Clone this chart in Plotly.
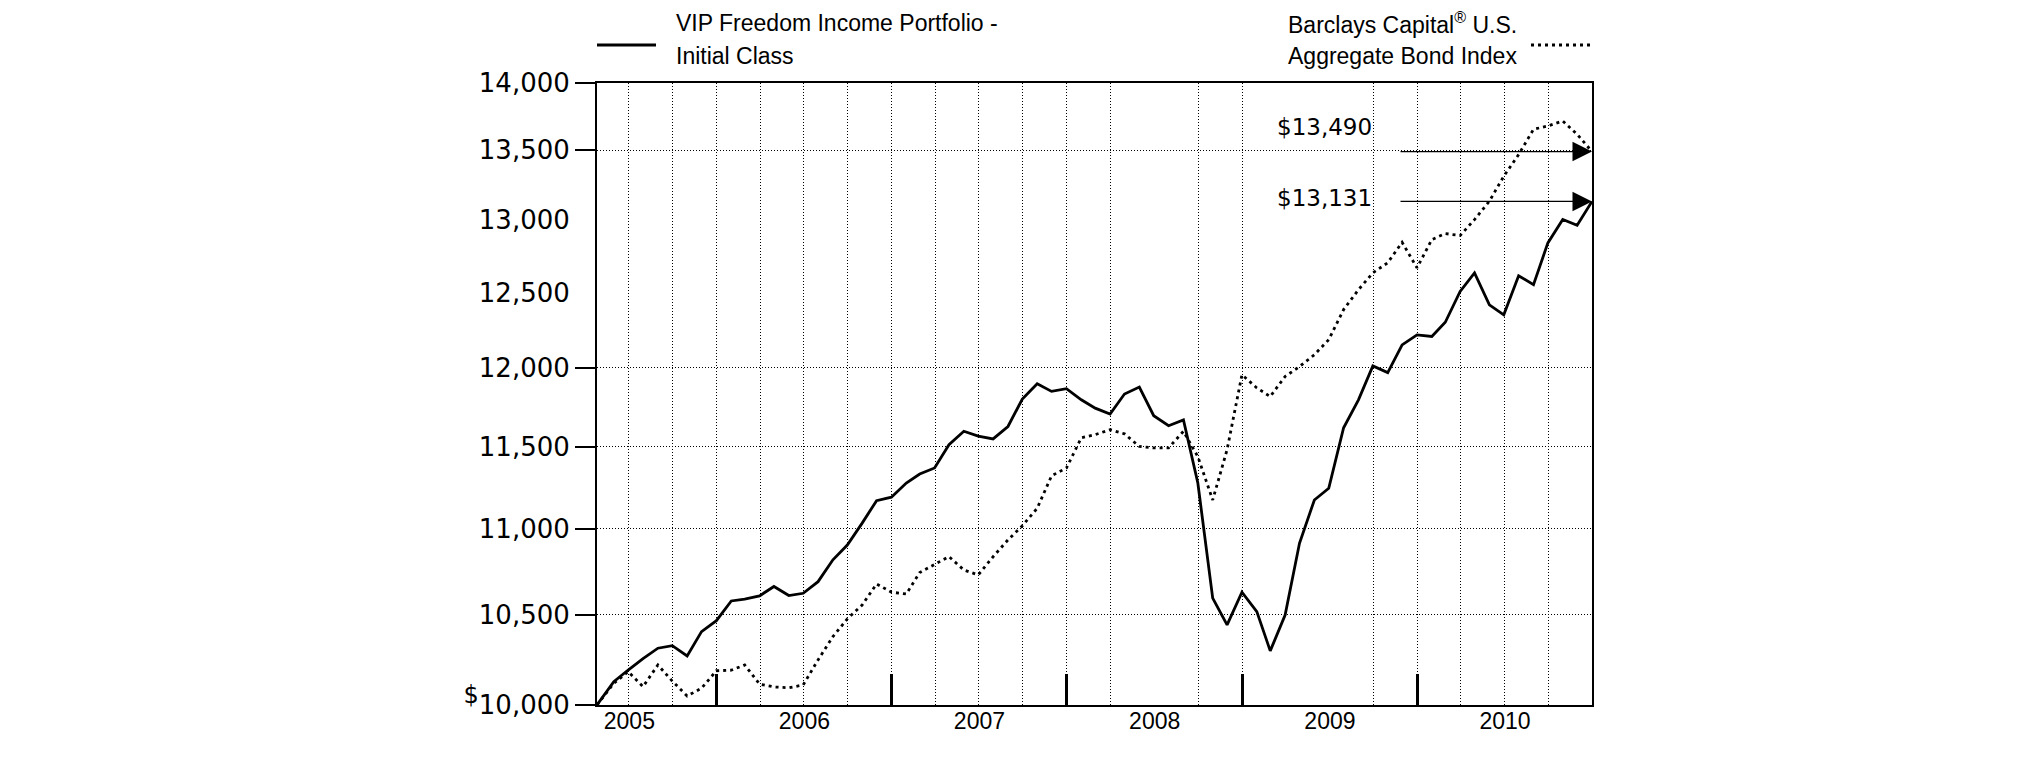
import numpy as np
import pandas as pd
import plotly.graph_objects as go

# growth of $10,000, start 26 Apr 2005 then month-ends to Dec 2010
START_DATE = "2005-04-26"
MONTH_ENDS = pd.date_range("2005-05-31", "2010-12-31", freq="ME")
DATES = [pd.Timestamp(START_DATE)] + list(MONTH_ENDS)

FUND = [
    10000,
    10127, 10191, 10254, 10312, 10326, 10269, 10405, 10467,                  # 2005
    10579, 10589, 10608, 10662, 10610, 10623, 10690, 10817, 10904, 11034, 11169, 11190,  # 2006
    11276, 11331, 11368, 11512, 11596, 11566, 11548, 11626, 11800, 11898, 11849, 11866,  # 2007
    11795, 11742, 11704, 11832, 11877, 11694, 11631, 11668, 11276, 10595, 10443, 10629,  # 2008
    10518, 10297, 10499, 10914, 11173, 11244, 11618, 11795, 12013, 11970, 12151, 12217,  # 2009
    12206, 12300, 12507, 12633, 12417, 12350, 12614, 12553, 12840, 13003, 12963, 13131,  # 2010
]
INDEX = [
    10000,
    10118, 10182, 10100, 10219, 10130, 10049, 10091, 10187,
    10190, 10219, 10114, 10098, 10094, 10109, 10247, 10377, 10477, 10556, 10677, 10629,
    10619, 10743, 10788, 10836, 10758, 10729, 10835, 10934, 11018, 11123, 11320, 11368,
    11555, 11575, 11606, 11580, 11501, 11492, 11492, 11596, 11438, 11173, 11481, 11956,
    11871, 11816, 11945, 12009, 12086, 12185, 12385, 12519, 12633, 12703, 12844, 12668,
    12863, 12905, 12891, 13003, 13133, 13311, 13468, 13654, 13678, 13715, 13617, 13490,
]

FUND_LABEL = ["VIP Freedom Income Portfolio -", "Initial Class"]
INDEX_LABEL = ["Barclays Capital<sup>®</sup> U.S.", "Aggregate Bond Index"]

Y_TICKS = [10000, 10500, 11000, 11500, 12000, 12500, 13000, 13500, 14000]
Y_TICK_TEXT = ["<sup><span style='font-size:24px'>$</span></sup>10,000", "10,500",
               "11,000", "11,500", "12,000", "12,500", "13,000", "13,500", "14,000"]
Y_MARKED = [10000, 10500, 11000, 11500, 12000, 13500, 14000]   # ticks + grid in original
X_GRID = ["2005-07-01", "2005-10-01", "2006-04-01", "2006-07-01", "2006-10-01",
          "2007-04-01", "2007-07-01", "2007-10-01", "2008-04-01", "2008-10-01",
          "2009-10-01", "2010-04-01", "2010-07-01", "2010-10-01"]

SANS = "Liberation Sans, Arial, Helvetica, sans-serif"
WIDE = "DejaVu Sans, Verdana, sans-serif"
GRID_DASH = "1px,2px"

fig = go.Figure()
fig.add_trace(go.Scatter(x=DATES, y=FUND, mode="lines", name=FUND_LABEL[0],
                         line=dict(color="black", width=2.8)))
fig.add_trace(go.Scatter(x=DATES, y=INDEX, mode="lines", name=INDEX_LABEL[0],
                         line=dict(color="black", width=2.8, dash="3px,4px")))

# end-value arrows and labels
for val, lab_y in ((INDEX[-1], 0.9297), (FUND[-1], 0.8146)):
    fig.add_annotation(x=DATES[-1], y=np.log10(val), text="", showarrow=True,
                       axref="pixel", ayref="pixel", ax=-193, ay=0,
                       arrowhead=2, arrowsize=3.0, arrowwidth=1.3,
                       arrowcolor="black", standoff=0)
    fig.add_annotation(xref="paper", yref="paper", x=0.781, y=lab_y,
                       xanchor="right", yanchor="middle", showarrow=False,
                       text=f"${val:,.0f}", font=dict(family=WIDE, size=23))

# manual legend
fig.add_shape(type="line", xref="paper", yref="paper", x0=0.0, x1=0.0593,
              y0=1.0611, y1=1.0611, line=dict(color="black", width=2.8))
fig.add_shape(type="line", xref="paper", yref="paper", x0=0.9387, x1=0.998,
              y0=1.0611, y1=1.0611, line=dict(color="black", width=2.8, dash="3px,4px"))
for i, yy in enumerate((1.097, 1.0440)):
    fig.add_annotation(xref="paper", yref="paper", x=0.0774, y=yy, xanchor="left",
                       yanchor="middle", showarrow=False, text=FUND_LABEL[i],
                       font=dict(family=SANS, size=23))
    fig.add_annotation(xref="paper", yref="paper", x=0.6925, y=yy, xanchor="left",
                       yanchor="middle", showarrow=False, text=INDEX_LABEL[i],
                       font=dict(family=SANS, size=23))

# the page body adds an 8px offset, so margins are measured from there
fig.update_layout(
    width=2025, height=761, autosize=False,
    margin=dict(l=589, r=441, t=75, b=64),
    paper_bgcolor="white", plot_bgcolor="white",
    showlegend=False,
    font=dict(family=SANS, size=23, color="black"),
)
fig.update_xaxes(
    type="date", range=[DATES[0], DATES[-1]],
    tick0="2005-01-01", dtick="M12", tickformat="%Y", ticklabelmode="period",
    ticks="inside", ticklen=31, tickwidth=3, tickcolor="black",
    tickfont=dict(family=SANS, size=23), ticklabelstandoff=-6,
    showgrid=True, gridcolor="black", gridwidth=1, griddash=GRID_DASH,
    showline=True, linecolor="black", linewidth=2, mirror=True, zeroline=False,
    minor=dict(tickmode="array", tickvals=X_GRID, ticks="", showgrid=True,
               gridcolor="black", gridwidth=1, griddash=GRID_DASH),
)
fig.update_yaxes(
    type="log", range=[np.log10(Y_TICKS[0]), np.log10(Y_TICKS[-1])],
    tickmode="array", tickvals=Y_TICKS, ticktext=Y_TICK_TEXT,
    ticks="outside", ticklen=20, tickcolor="rgba(0,0,0,0)",
    tickfont=dict(family=WIDE, size=26),
    showgrid=False, showline=True, linecolor="black", linewidth=2, mirror=True,
    zeroline=False,
    minor=dict(tickmode="array", tickvals=Y_MARKED, ticks="outside", ticklen=20,
               tickwidth=1.5, tickcolor="black", showgrid=True, gridcolor="black",
               gridwidth=1, griddash=GRID_DASH),
)

fig.write_html("out.html")
